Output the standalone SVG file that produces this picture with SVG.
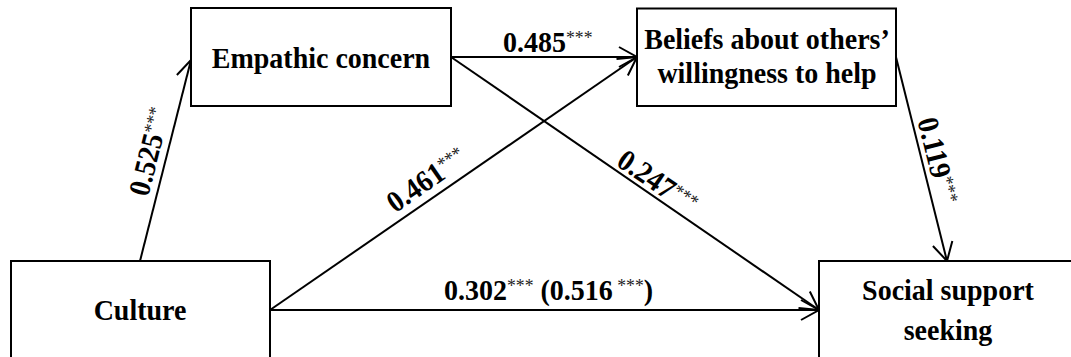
<svg xmlns="http://www.w3.org/2000/svg" width="1071" height="357" viewBox="0 0 1071 357">
<style>
.box{fill:#fff;stroke:#000;stroke-width:2}
.node{font-family:"Liberation Serif","Times New Roman",serif;font-weight:bold;font-size:30px;fill:#000;text-anchor:middle}
.lbl{font-family:"Liberation Serif","Times New Roman",serif;font-weight:bold;font-size:30px;fill:#000}
.s{font-weight:normal;font-size:19px;fill:#222}
.edge{stroke:#000;stroke-width:2;fill:none;marker-end:url(#arr)}
</style>
<defs>
<marker id="arr" markerUnits="userSpaceOnUse" markerWidth="20" markerHeight="20" refX="0" refY="0" orient="auto" overflow="visible">
<path d="M-18,-10 L0,0 L-18,10" fill="none" stroke="#000" stroke-width="2"/>
</marker>
</defs>
<rect width="1071" height="357" fill="#fff"/>
<g id="connectors">
<line class="edge" x1="140" y1="261" x2="191" y2="60"/>
<line class="edge" x1="451" y1="57" x2="637" y2="57"/>
<line class="edge" x1="451" y1="57" x2="819" y2="310"/>
<line class="edge" x1="270" y1="310" x2="637" y2="57"/>
<line class="edge" x1="270" y1="310" x2="819" y2="310"/>
<line class="edge" x1="896" y1="57" x2="947" y2="261"/>
<text class="lbl" text-anchor="middle" transform="translate(159,154) rotate(-75.8) scale(0.933,1)">0.525<tspan class="s" dy="-8">***</tspan></text>
<text class="lbl" transform="translate(503,52) scale(0.933,1)">0.485<tspan class="s" dy="-8">***</tspan></text>
<text class="lbl" text-anchor="middle" transform="translate(432,188) rotate(-34.6) scale(0.933,1)">0.461<tspan class="s" dy="-8">***</tspan></text>
<text class="lbl" text-anchor="middle" transform="translate(652,190) rotate(34.5) scale(0.933,1)">0.247<tspan class="s" dy="-8">***</tspan></text>
<text class="lbl" text-anchor="middle" transform="translate(928,163) rotate(76) scale(0.933,1)">0.119<tspan class="s" dy="-8">***</tspan></text>
<text class="lbl" transform="translate(444,300) scale(0.933,1)">0.302<tspan class="s" dy="-8">***</tspan><tspan dy="8"> (0.516</tspan><tspan class="s" dy="-8"> ***</tspan><tspan dy="8">)</tspan></text>
</g>
<g id="empathic">
<rect class="box" x="191" y="8" width="260" height="98"/>
<text class="node" transform="translate(321,68) scale(0.933,1)">Empathic concern</text>
</g>
<g id="beliefs">
<rect class="box" x="637" y="8.5" width="259" height="97.5"/>
<text class="node" transform="translate(767,49) scale(0.933,1)">Beliefs about others’</text>
<text class="node" transform="translate(767,83) scale(0.933,1)">willingness to help</text>
</g>
<g id="culture">
<rect class="box" x="11" y="261" width="259" height="120"/>
<text class="node" transform="translate(140,320) scale(0.933,1)">Culture</text>
</g>
<g id="social">
<rect class="box" x="819" y="261" width="270" height="120"/>
<text class="node" transform="translate(948,300) scale(0.933,1)">Social support</text>
<text class="node" transform="translate(948,340) scale(0.933,1)">seeking</text>
</g>
</svg>
